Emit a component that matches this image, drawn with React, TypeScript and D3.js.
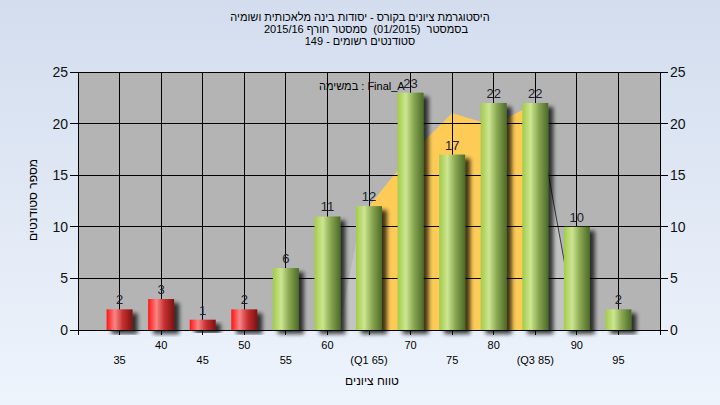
import React from "react";
import * as d3 from "d3";

const scores = [35, 40, 45, 50, 55, 60, 65, 70, 75, 80, 85, 90, 95];
const counts = [2, 3, 1, 2, 6, 11, 12, 23, 17, 22, 22, 10, 2];
const xTickLabels = ["35", "40", "45", "50", "55", "60", "(Q1 65)", "70", "75", "80", "(Q3 85)", "90", "95"];
const passScore = 55;
const yTicks = [0, 5, 10, 15, 20, 25];

// distribution shading (score, value)
const outerX = [61.4, 64.3, 65, 70, 75, 80, 85, 90];
const outerY = [0, 12.1, 12, 17, 21, 19.8, 22, 0];
const iqrX = [65, 65, 70, 75, 80, 85, 85];
const iqrY = [0, 12, 17, 21, 19.8, 22, 0];
const tailX = [85, 90];
const tailY = [22, 0];

const titleLines = [
  "היסטוגרמת ציונים בקורס - יסודות בינה מלאכותית ושומיה",
  "בסמסטר  (01/2015)  סמסטר חורף 2015/16",
  "סטודנטים רשומים - 149",
];
const legendText = "במשימה : Final_A";
const xTitle = "טווח ציונים";
const yTitle = "מספר סטודנטים";

const W = 720;
const H = 405;
const font = "'Liberation Sans', Arial, sans-serif";

export default function App() {
  const x = d3.scaleLinear().domain([30, 100]).range([78, 660]);
  const y = d3.scaleLinear().domain([0, 25]).range([330, 72]);
  const barW = 26;

  const toPts = (xs: number[], ys: number[]) => xs.map((v, i) => [v, ys[i]] as [number, number]);
  const area = d3
    .line<[number, number]>()
    .x((d) => x(d[0]))
    .y((d) => y(d[1]));

  return (
    <div style={{ position: "absolute", left: 0, top: 0 }}>
      <svg width={W} height={H} style={{ display: "block" }} fontFamily={font}>
        <defs>
          <linearGradient id="bg" x1="0" y1="0" x2="0" y2="1">
            <stop offset="0" stopColor="#d3ddee" />
            <stop offset="1" stopColor="#eef4fc" />
          </linearGradient>
          <linearGradient id="green" x1="0" y1="0" x2="1" y2="0">
            <stop offset="0" stopColor="#a2cc48" />
            <stop offset="0.32" stopColor="#cde592" />
            <stop offset="0.62" stopColor="#8aa852" />
            <stop offset="1" stopColor="#4c6a28" />
          </linearGradient>
          <linearGradient id="red" x1="0" y1="0" x2="1" y2="0">
            <stop offset="0" stopColor="#ff1414" />
            <stop offset="0.32" stopColor="#f88686" />
            <stop offset="0.62" stopColor="#c83030" />
            <stop offset="1" stopColor="#7c1212" />
          </linearGradient>
          <filter id="shadow" x="-50%" y="-20%" width="200%" height="140%">
            <feGaussianBlur in="SourceAlpha" stdDeviation="2.2" />
            <feOffset dx="5" dy="4" result="o" />
            <feComponentTransfer>
              <feFuncA type="linear" slope="0.75" />
            </feComponentTransfer>
            <feMerge>
              <feMergeNode />
              <feMergeNode in="SourceGraphic" />
            </feMerge>
          </filter>
        </defs>
        <rect x={0} y={0} width={W} height={H} fill="url(#bg)" />

        {/* title */}
        {titleLines.map((t, i) => (
          <text key={i} x={i === 1 ? 366 : 360} y={21 + i * 12} textAnchor="middle" fontSize={11} fill="#000" style={{ whiteSpace: "pre" }}>
            {t}
          </text>
        ))}

        {/* plot area */}
        <rect x={x(30)} y={y(25)} width={x(100) - x(30)} height={y(0) - y(25)} fill="#b4b4b4" />

        {/* distribution shading */}
        <path d={area(toPts(outerX, outerY)) + "Z"} fill="#c3c3c3" />
        <path d={area(toPts(iqrX, iqrY)) + "Z"} fill="#fecb57" />
        <path d={area(toPts(tailX, tailY)) || ""} fill="none" stroke="#3a3a3a" strokeWidth={1} />

        {/* grid */}
        {yTicks.map((t) => (
          <line key={"h" + t} x1={x(30)} x2={x(100)} y1={y(t)} y2={y(t)} stroke="#000" strokeWidth={1} shapeRendering="crispEdges" />
        ))}
        {scores.map((s) => (
          <line key={"v" + s} x1={x(s)} x2={x(s)} y1={y(25)} y2={y(0) + 5} stroke="#000" strokeWidth={1} shapeRendering="crispEdges" />
        ))}
        <line x1={x(30)} x2={x(30)} y1={y(25)} y2={y(0) + 5} stroke="#000" shapeRendering="crispEdges" />
        <line x1={x(100)} x2={x(100)} y1={y(25)} y2={y(0) + 5} stroke="#000" shapeRendering="crispEdges" />

        {/* bars */}
        {scores.map((s, i) => (
          <rect
            key={"b" + s}
            x={x(s) - barW / 2}
            y={y(counts[i])}
            width={barW}
            height={y(0) - y(counts[i])}
            fill={s < passScore ? "url(#red)" : "url(#green)"}
            filter="url(#shadow)"
          />
        ))}
        {scores.map((s, i) => (
          <text key={"l" + s} x={x(s)} y={y(counts[i]) - 5} textAnchor="middle" fontSize={13} fill="#1c1c2a">
            {counts[i]}
          </text>
        ))}

        {/* y ticks */}
        {yTicks.map((t) => (
          <g key={"yt" + t}>
            <line x1={x(30) - 8} x2={x(30)} y1={y(t)} y2={y(t)} stroke="#000" shapeRendering="crispEdges" />
            <line x1={x(100)} x2={x(100) + 8} y1={y(t)} y2={y(t)} stroke="#000" shapeRendering="crispEdges" />
            <text x={x(30) - 10} y={y(t) + 5} textAnchor="end" fontSize={14} fill="#111">
              {t}
            </text>
            <text x={x(100) + 10} y={y(t) + 5} textAnchor="start" fontSize={14} fill="#111">
              {t}
            </text>
          </g>
        ))}

        {/* x tick labels */}
        {scores.map((s, i) => (
          <text key={"xl" + s} x={x(s)} y={i % 2 === 1 ? 349 : 364} textAnchor="middle" fontSize={11} fill="#000" style={{ whiteSpace: "pre" }}>
            {xTickLabels[i]}
          </text>
        ))}

        {/* legend */}
        <text x={319} y={90} fontSize={11} fill="#000">
          {legendText}
        </text>

        {/* axis titles */}
        <text x={372} y={385} textAnchor="middle" fontSize={12} fill="#000">
          {xTitle}
        </text>
        <text transform="translate(37,200) rotate(-90)" textAnchor="middle" fontSize={12} fill="#000">
          {yTitle}
        </text>
      </svg>
    </div>
  );
}
